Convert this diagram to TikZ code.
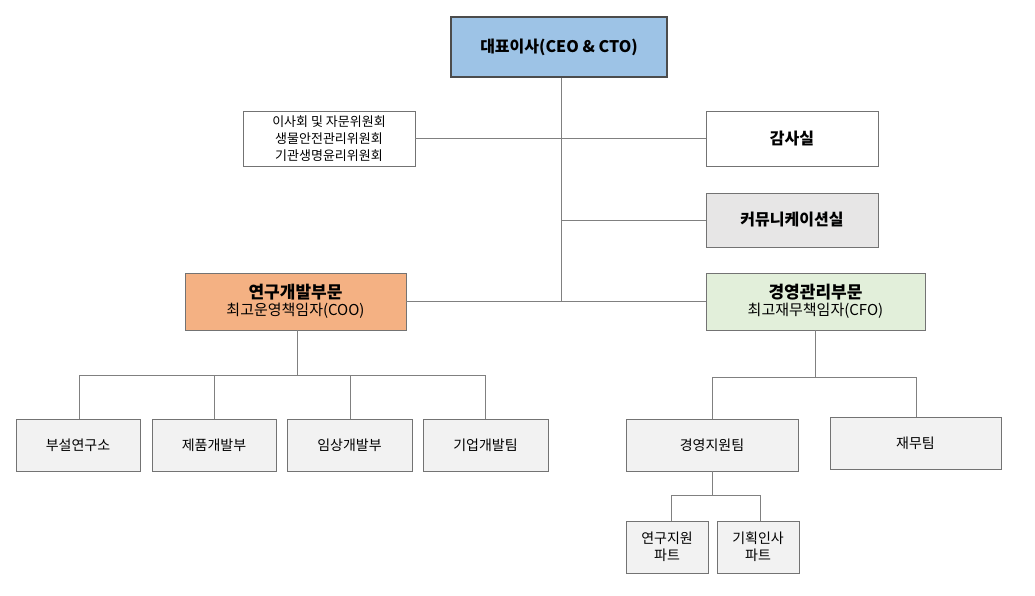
\documentclass[tikz,border=0pt]{standalone}
\usepackage{fontspec}
\setmainfont{Noto Sans CJK KR}
\definecolor{cblue}{RGB}{157,195,230}
\definecolor{cgray}{RGB}{231,230,230}
\definecolor{corange}{RGB}{244,177,131}
\definecolor{cgreen}{RGB}{226,239,218}
\definecolor{clight}{RGB}{242,242,242}
\begin{document}
\begin{tikzpicture}[x=1pt,y=-1pt,
  bx/.style={draw=black!55,line width=0.8pt,inner sep=0pt,align=center,font=\fontsize{14}{17}\selectfont},
  ln/.style={draw=black!50,line width=0.7pt}]
\useasboundingbox (0,0) rectangle (1035,595);
\def\B(#1,#2,#3,#4,#5,#6,#7){\node[bx,fill=#6,minimum width=#3-#1,minimum height=#4-#2] (#5) at ({(#1+#3)/2},{(#2+#4)/2}) {#7};}
\node[bx,fill=cblue,draw=black!70,line width=1.6pt,minimum width=216,minimum height=60,font=\fontsize{16}{19}\selectfont\bfseries] (ceo) at (559,47) {대표이사(CEO \& CTO)};
\B(243,111,415,166,com,white,{\fontsize{13}{15}\selectfont 이사회 및 자문위원회\\ \fontsize{13}{15}\selectfont 생물안전관리위원회\\ \fontsize{13}{15}\selectfont 기관생명윤리위원회})
\B(706,111,878,166,aud,white,{\bfseries\fontsize{16}{19}\selectfont 감사실})
\B(706,193,878,247,comm,cgray,{\bfseries\fontsize{16}{19}\selectfont 커뮤니케이션실})
\B(185,273,406,330,rd,corange,{\bfseries\fontsize{17}{20}\selectfont 연구개발부문\\ \fontsize{15}{18}\selectfont 최고운영책임자(COO)})
\B(706,273,925,330,mg,cgreen,{\bfseries\fontsize{17}{20}\selectfont 경영관리부문\\ \fontsize{15}{18}\selectfont 최고재무책임자(CFO)})
\B(16,419,140,471,b1,clight,부설연구소)
\B(152,419,276,471,b2,clight,제품개발부)
\B(287,419,412,471,b3,clight,임상개발부)
\B(423,419,548,471,b4,clight,기업개발팀)
\B(626,419,798,471,m1,clight,경영지원팀)
\B(830,417,1001,469,m2,clight,재무팀)
\B(626,521,708,573,p1,clight,연구지원\\파트)
\B(717,521,799,573,p2,clight,기획인사\\파트)
\coordinate (j1) at (561,301);
\draw[ln] (ceo.south -| j1) -- (j1);
\draw[ln] (com.east) -- (aud.west);
\draw[ln] (comm.west -| j1) -- (comm.west);
\draw[ln] (rd.east) -- (mg.west);
\draw[ln] (297,330) -- (297,375);
\draw[ln] (79,419) -- (79,375) -- (485,375) -- (485,419);
\draw[ln] (214,375) -- (214,419);
\draw[ln] (350,375) -- (350,419);
\draw[ln] (815,330) -- (815,377);
\draw[ln] (712,419) -- (712,377) -- (916,377) -- (916,417);
\draw[ln] (712,471) -- (712,495);
\draw[ln] (671,521) -- (671,495) -- (760,495) -- (760,521);
\end{tikzpicture}
\end{document}
